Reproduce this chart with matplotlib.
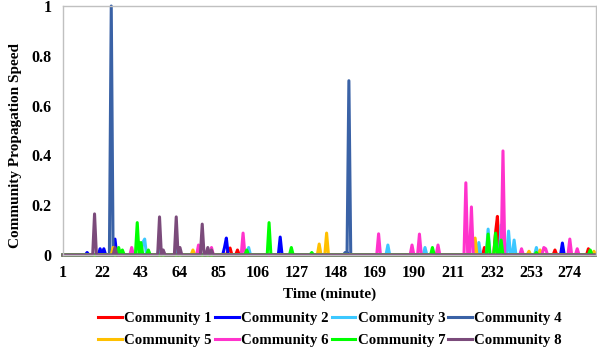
import numpy as np
import matplotlib
matplotlib.use("Agg")
import matplotlib.pyplot as plt

plt.rcParams['font.family'] = ['Liberation Serif', 'DejaVu Serif']
plt.rcParams['font.weight'] = 'bold'

n_minutes = 288
minutes = np.arange(1, n_minutes + 1)

labels = ['Community 1', 'Community 2', 'Community 3', 'Community 4',
          'Community 5', 'Community 6', 'Community 7', 'Community 8']
colors = ['#FF0000', '#0000FF', '#3CC8FF', '#3A62A6',
          '#FFC000', '#FF33CC', '#00FF00', '#7B4B7B']

# peaks (minute, speed); everything else is 0
c1_t = [63, 90, 91, 95, 228, 234, 235, 266, 284]
c1_v = [0.03, 0.02, 0.028, 0.02, 0.03, 0.09, 0.155, 0.02, 0.025]
c2_t = [14, 21, 23, 29, 88, 89, 118, 154, 270]
c2_v = [0.01, 0.025, 0.025, 0.064, 0.03, 0.068, 0.072, 0.01, 0.048]
c3_t = [44, 45, 53, 62, 101, 176, 196, 225, 230, 237, 241, 244, 256]
c3_v = [0.05, 0.064, 0.04, 0.02, 0.03, 0.04, 0.03, 0.05, 0.104, 0.12, 0.096, 0.06, 0.03]
c4_t = [27, 153, 155]
c4_v = [1.0, 0.01, 0.70]
c5_t = [28, 71, 139, 143, 223, 234, 252, 258, 287]
c5_v = [0.03, 0.02, 0.044, 0.088, 0.068, 0.05, 0.015, 0.02, 0.015]
c6_t = [38, 74, 81, 98, 171, 189, 193, 203, 218, 221, 238, 248, 260, 261, 274, 278]
c6_v = [0.03, 0.04, 0.03, 0.088, 0.085, 0.04, 0.084, 0.04, 0.29, 0.193, 0.418,
        0.025, 0.03, 0.025, 0.064, 0.025]
c7_t = [31, 33, 41, 43, 47, 100, 112, 124, 135, 200, 230, 234, 237, 256, 285]
c7_v = [0.03, 0.02, 0.13, 0.05, 0.02, 0.02, 0.13, 0.03, 0.01, 0.03, 0.084, 0.088,
        0.06, 0.01, 0.02]
c8_t = [18, 29, 53, 55, 62, 64, 76, 79, 81]
c8_v = [0.165, 0.03, 0.153, 0.02, 0.153, 0.03, 0.124, 0.03, 0.02]

peak_t = [c1_t, c2_t, c3_t, c4_t, c5_t, c6_t, c7_t, c8_t]
peak_v = [c1_v, c2_v, c3_v, c4_v, c5_v, c6_v, c7_v, c8_v]

xtick_vals = np.arange(1, 275, 21)

fig = plt.figure(figsize=(5.97, 3.54), dpi=100)
ax = fig.add_axes([0.1055, 0.2797, 0.8925, 0.7033])

handles = []
for lab, col, tt, vv in zip(labels, colors, peak_t, peak_v):
    y = np.zeros(n_minutes)
    y[np.array(tt) - 1] = vv
    h, = ax.plot(minutes, y, color=col, linewidth=2.2, label=lab, clip_on=False)
    handles.append(h)

ax.set_xlim(1, n_minutes)
ax.set_ylim(0, 1)
ax.set_xticks(xtick_vals)
ax.set_xticklabels([str(v) for v in xtick_vals])
ax.set_yticks([0, 0.2, 0.4, 0.6, 0.8, 1])
ax.set_yticklabels(['0', '0.2', '0.4', '0.6', '0.8', '1'])
ax.tick_params(axis='both', length=0, labelsize=11.5)
ax.tick_params(axis='x', pad=7)
ax.tick_params(axis='y', pad=8)
for s in ax.spines.values():
    s.set_color('#C0C0C0')
    s.set_linewidth(1)

ax.set_xlabel('Time (minute)', fontsize=11, fontweight='bold', labelpad=5)
ax.set_ylabel('Community Propagation Speed', fontsize=11, fontweight='bold')
ax.yaxis.set_label_coords(-0.077, 0.44)

# legend fills by column, so reorder to get 1-4 on the first row
order = [0, 4, 1, 5, 2, 6, 3, 7]
fig.legend([handles[i] for i in order], [labels[i] for i in order],
           loc='center', bbox_to_anchor=(0.553, 0.07), ncol=4, frameon=False,
           fontsize=10.7, handlelength=1.6, handletextpad=0.15,
           columnspacing=0.2, labelspacing=0.6)

fig.savefig('out.png', dpi=100)
